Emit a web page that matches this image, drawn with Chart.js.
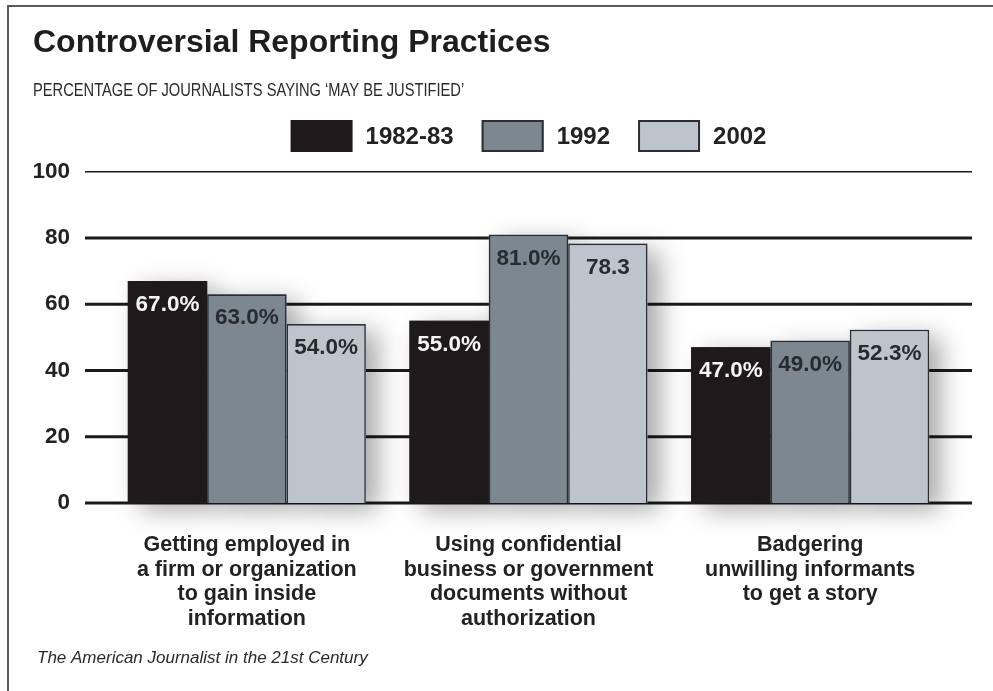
<!DOCTYPE html>
<html><head><meta charset="utf-8">
<script src="https://cdn.jsdelivr.net/npm/chart.js@4"></script>
<style>
html,body{margin:0;padding:0;background:#fff;}
#wrap{position:relative;width:993px;height:691px;overflow:hidden;background:#fff;}
#frame{position:absolute;left:7px;top:5px;width:1000px;height:700px;border-top:2px solid #5a5a5a;border-left:2px solid #5a5a5a;}
canvas{position:absolute;left:0;top:0;}
</style></head><body>
<div id="wrap"><div id="frame"></div><canvas id="c" width="993" height="691" style="width:993px;height:691px"></canvas></div>
<script>
const titleText = "Controversial Reporting Practices";
const subtitleText = "PERCENTAGE OF JOURNALISTS SAYING \u2018MAY BE JUSTIFIED\u2019";
const sourceText = "The American Journalist in the 21st Century";
const categories = [
  ["Getting employed in","a firm or organization","to gain inside","information"],
  ["Using confidential","business or government","documents without","authorization"],
  ["Badgering","unwilling informants","to get a story"]
];
const seriesNames = ["1982-83","1992","2002"];
const values1982 = [67.0, 55.0, 47.0];
const values1992 = [63.0, 81.0, 49.0];
const values2002 = [54.0, 78.3, 52.3];
const labels1982 = ["67.0%","55.0%","47.0%"];
const labels1992 = ["63.0%","81.0%","49.0%"];
const labels2002 = ["54.0%","78.3","52.3%"];
const yTicks = [0,20,40,60,80,100];

const FONT = "'Liberation Sans', Arial, sans-serif";
const fills = ["#1e1a1b", "#7c878f", "#bdc4cb"];
const borders = ["#1e1a1b", "#2b2f33", "#2b2f33"];
const labelColors = ["#f5f5f5", "#262b30", "#262b30"];
const valueLabels = [labels1982, labels1992, labels2002];

const gridShadowPlugin = {
  id: 'gridShadow',
  beforeDatasetsDraw(chart) {
    const ctx = chart.ctx, ys = chart.scales.y;
    ctx.save();
    ctx.strokeStyle = '#1b1b1b';
    yTicks.forEach(v => {
      const py = ys.getPixelForValue(v);
      ctx.lineWidth = v === 100 ? 1.6 : 3;
      ctx.beginPath(); ctx.moveTo(85, py); ctx.lineTo(972, py); ctx.stroke();
    });
    ctx.restore();
    ctx.save();
    ctx.shadowColor = 'rgba(0,0,0,0.34)';
    ctx.shadowBlur = 24;
    ctx.shadowOffsetX = 12;
    ctx.shadowOffsetY = 7;
    chart.data.datasets.forEach((ds, di) => {
      const meta = chart.getDatasetMeta(di);
      meta.data.forEach(el => {
        ctx.fillStyle = fills[di];
        ctx.fillRect(el.x - el.width/2, el.y, el.width, el.base - el.y);
      });
    });
    ctx.restore();
  },
  afterDatasetsDraw(chart) {
    const ctx = chart.ctx;
    ctx.save();
    ctx.font = "bold 22.5px " + FONT;
    ctx.textAlign = 'center';
    ctx.textBaseline = 'middle';
    chart.data.datasets.forEach((ds, di) => {
      const meta = chart.getDatasetMeta(di);
      meta.data.forEach((el, i) => {
        ctx.fillStyle = labelColors[di];
        ctx.fillText(valueLabels[di][i], el.x, el.y + 24);
      });
    });
    ctx.restore();
  },
  afterDraw(chart) {
    const ctx = chart.ctx;
    const ca = chart.chartArea;
    ctx.save();
    // subtitle (condensed)
    ctx.save();
    ctx.font = "18px " + FONT;
    ctx.fillStyle = '#2a2a2a';
    ctx.textAlign = 'left';
    ctx.textBaseline = 'alphabetic';
    ctx.translate(33, 96);
    ctx.scale(0.815, 1);
    ctx.fillText(subtitleText, 0, 0);
    ctx.restore();
    // legend built from the datasets
    ctx.font = "bold 24px " + FONT;
    ctx.textBaseline = 'middle';
    const boxW = 62, boxH = 32, gap = 13, itemGap = 28;
    const items = chart.data.datasets.map((ds, i) => ({label: ds.label, w: boxW + gap + ctx.measureText(ds.label).width, i}));
    const total = items.reduce((s, it) => s + it.w, 0) + itemGap * (items.length - 1);
    let x = (ca.left + ca.right) / 2 - total / 2;
    const top = 120;
    items.forEach(it => {
      ctx.fillStyle = fills[it.i];
      ctx.fillRect(x, top, boxW, boxH);
      if (it.i > 0) { ctx.strokeStyle = '#2b2f33'; ctx.lineWidth = 2; ctx.strokeRect(x + 1, top + 1, boxW - 2, boxH - 2); }
      ctx.fillStyle = '#222';
      ctx.textAlign = 'left';
      ctx.fillText(it.label, x + boxW + gap, top + boxH / 2 + 1);
      x += it.w + itemGap;
    });
    // source
    ctx.font = "italic 17px " + FONT;
    ctx.fillStyle = '#2a2a2a';
    ctx.textAlign = 'left';
    ctx.textBaseline = 'alphabetic';
    ctx.fillText(sourceText, 37, 663);
    ctx.restore();
  }
};

const datasets = [values1982, values1992, values2002].map((vals, i) => ({
  label: seriesNames[i],
  data: vals,
  backgroundColor: fills[i],
  borderColor: borders[i],
  borderWidth: i === 0 ? 0 : 1.6,
  barPercentage: 1.0,
  categoryPercentage: 0.845
}));

new Chart(document.getElementById('c'), {
  type: 'bar',
  data: { labels: categories, datasets },
  plugins: [gridShadowPlugin],
  options: {
    responsive: false,
    animation: false,
    layout: { padding: { left: 33, right: 42, top: 0, bottom: 0 } },
    plugins: {
      legend: { display: false },
      tooltip: { enabled: false },
      title: {
        display: true, text: titleText, align: 'start', color: '#1e1e1e',
        font: { family: FONT, size: 32, weight: 'bold' },
        padding: { top: 24, bottom: 109.3 }
      },
      subtitle: { display: false }
    },
    scales: {
      x: {
        grid: { display: false, drawTicks: false },
        border: { display: false },
        ticks: { color: '#222', padding: 30, font: { family: FONT, size: 21.5, weight: 'bold', lineHeight: 1.14 } },
        afterFit(axis) { axis.height = 188; }
      },
      y: {
        min: 0, max: 100,
        grid: { display: false, drawTicks: false },
        border: { display: false },
        ticks: { stepSize: 20, color: '#222', padding: 36, font: { family: FONT, size: 22.5, weight: 'bold' } },
        afterFit(axis) { axis.width = 73; }
      }
    }
  }
});
</script>
</body></html>
